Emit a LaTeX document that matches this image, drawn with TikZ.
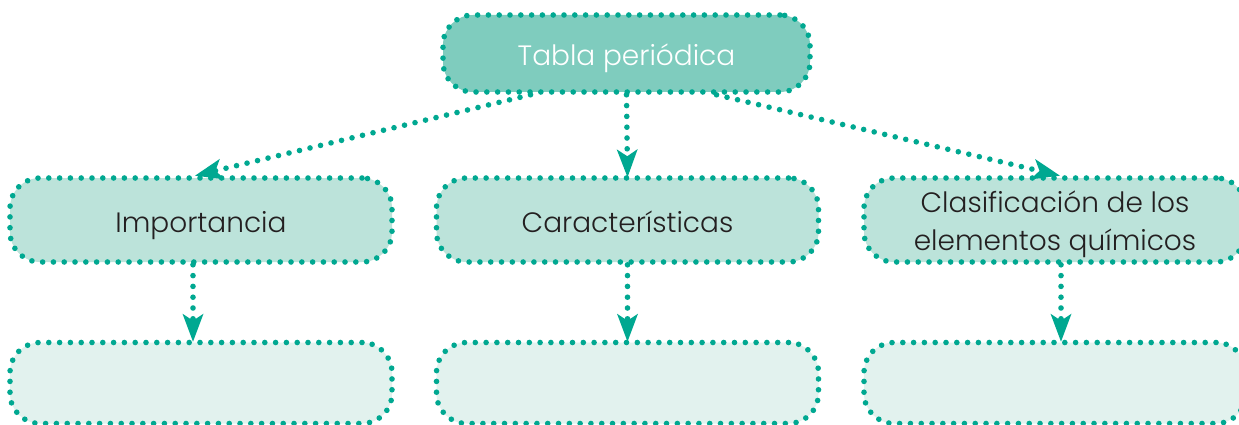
\documentclass[tikz,border=0pt]{standalone}
\usepackage{fontspec}
\setmainfont{Poppins Light}
\usetikzlibrary{arrows.meta,calc}
\definecolor{teal1}{HTML}{00A891}
\definecolor{topfill}{HTML}{7FCCBE}
\definecolor{midfill}{HTML}{BCE3DA}
\definecolor{lowfill}{HTML}{E2F2EE}
\definecolor{txt}{HTML}{231F20}
\tikzset{
  dotline/.style={draw=teal1, line width=5.6pt, line cap=round, dash pattern=on 0pt off 10.8pt},
  boxbase/.style={dotline, rounded corners=30pt, inner sep=0pt, align=center},
  topbox/.style={boxbase, fill=topfill, minimum width=367pt, minimum height=77pt, text=white, font=\fontsize{28}{38}\selectfont, text height=27pt, text depth=2pt},
  midbox/.style={boxbase, fill=midfill, minimum width=382pt, minimum height=84pt, text=txt, font=\fontsize{28}{38}\selectfont},
  oneline/.style={text height=26pt, text depth=2pt},
  lowbox/.style={boxbase, fill=lowfill, minimum width=382pt, minimum height=81pt},
  conn/.style={dotline, -{Stealth[length=28pt,width=21pt,inset=7pt,line width=0pt,fill=teal1]}, shorten >=-2pt}
}
\begin{document}
\begin{tikzpicture}[x=1pt,y=-1pt]
\useasboundingbox (0,0) rectangle (1239,425);
\node[topbox] (top) at (626.5,53.5) {Tabla periódica};
\node[midbox,oneline] (imp) at (201,220) {Importancia};
\node[midbox,oneline] (car) at (627.5,220) {Características};
\node[midbox] (cla) at (1055,220) {\raisebox{-10.4pt}[38pt][38pt]{\begin{tabular}{@{}c@{}}Clasificación de los\\elementos químicos\end{tabular}}};
\node[lowbox] (l1) at (201,383) {};
\node[lowbox] (l2) at (627.5,383) {};
\node[lowbox] (l3) at (1055,383) {};
\draw[conn] ($(top.south)+(-96,0)$) -- ($(imp.north)+(-4,0)$);
\draw[conn] (top.south) -- (car.north);
\draw[conn] ($(top.south)+(90,0)$) -- ($(cla.north)+(3,0)$);
\draw[conn] ($(imp.south)+(-8,0)$) -- ($(l1.north)+(-8,0)$);
\draw[conn] (car.south) -- (l2.north);
\draw[conn] ($(cla.south)+(6,0)$) -- ($(l3.north)+(6,0)$);
\end{tikzpicture}
\end{document}
